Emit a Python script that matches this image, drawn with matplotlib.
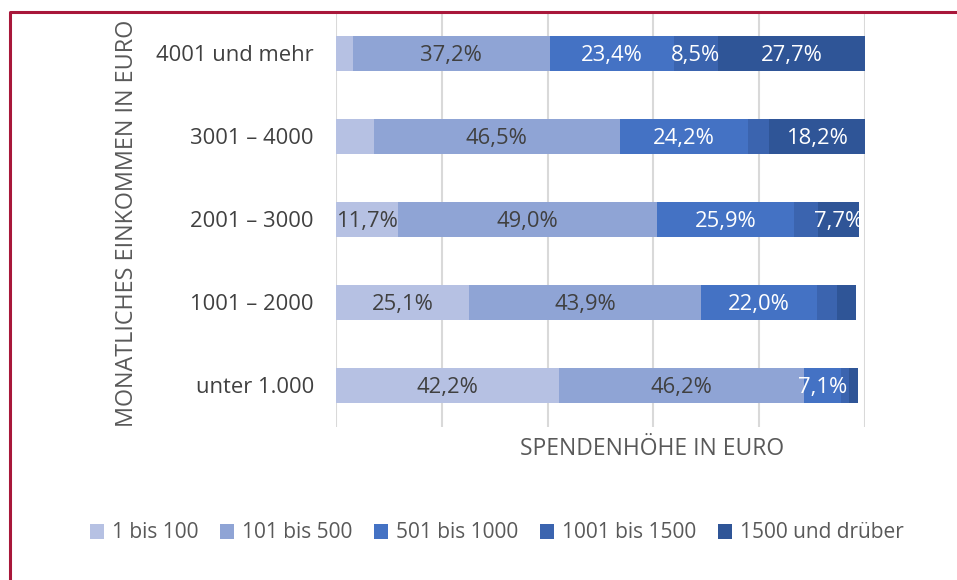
import matplotlib
matplotlib.use("Agg")
import matplotlib.pyplot as plt
from matplotlib.patches import Patch
from matplotlib.lines import Line2D

plt.rcParams['font.family'] = ['Open Sans', 'DejaVu Sans']

categories = ["unter 1.000", "1001 – 2000", "2001 – 3000", "3001 – 4000", "4001 und mehr"]
series_names = ["1 bis 100", "101 bis 500", "501 bis 1000", "1001 bis 1500", "1500 und drüber"]

s_1_100 = [42.2, 25.1, 11.7, 7.1, 3.2]
s_101_500 = [46.2, 43.9, 49.0, 46.5, 37.2]
s_501_1000 = [7.1, 22.0, 25.9, 24.2, 23.4]
s_1001_1500 = [1.5, 3.8, 4.6, 4.0, 8.5]
s_1500_plus = [1.6, 3.5, 7.7, 18.2, 27.7]
series_values = [s_1_100, s_101_500, s_501_1000, s_1001_1500, s_1500_plus]

show_1_100 = [True, True, True, False, False]
show_101_500 = [True, True, True, True, True]
show_501_1000 = [True, True, True, True, True]
show_1001_1500 = [False, False, False, False, True]
show_1500_plus = [False, False, True, True, True]
show_labels = [show_1_100, show_101_500, show_501_1000, show_1001_1500, show_1500_plus]

colors = ["#B6C1E3", "#8FA4D5", "#4472C4", "#3B64AF", "#2F5597"]
label_colors = ["#404040", "#404040", "white", "white", "white"]

W, H = 957, 580
fig = plt.figure(figsize=(W / 100, H / 100), dpi=100)
ax = fig.add_axes([336 / W, 1 - 427 / H, (865 - 336) / W, (427 - 11.5) / H])

y = list(range(len(categories)))
left = [0.0] * len(categories)
for name, vals, col, lc, show in zip(series_names, series_values, colors, label_colors, show_labels):
    ax.barh(y, vals, left=left, height=0.42, color=col, label=name, linewidth=0, zorder=3)
    for i, (v, l, s) in enumerate(zip(vals, left, show)):
        if s:
            ax.text(l + v / 2, i, f"{v:.1f}%".replace('.', ','), ha='center', va='center_baseline',
                    fontsize=15.8, color=lc, zorder=4)
    left = [a + b for a, b in zip(left, vals)]

ax.set_xlim(0, 100)
ax.set_ylim(-0.5, len(categories) - 0.5)
ax.set_xticks([0, 20, 40, 60, 80, 100])
ax.set_xticklabels([])
ax.set_yticks(y)
ax.set_yticklabels(categories, fontsize=15.8, color="#404040")
ax.tick_params(axis='both', length=0)
ax.tick_params(axis='y', pad=16)
ax.grid(axis='x', color="#D9D9D9", linewidth=1.5, zorder=0)
ax.set_axisbelow(True)
for sp in ax.spines.values():
    sp.set_visible(False)

fig.text(127 / W, 1 - 223 / H, "MONATLICHES EINKOMMEN IN EURO", rotation=90,
         ha='center', va='center', fontsize=16.8, color="#595959")
fig.text(652 / W, 1 - 449 / H, "SPENDENHÖHE IN EURO", ha='center', va='center',
         fontsize=16.5, color="#595959")

handles = [Patch(facecolor=c, edgecolor='none') for c in colors]
fig.legend(handles, series_names, loc='center', bbox_to_anchor=(497 / W, 1 - 533 / H),
           ncol=5, frameon=False, fontsize=15.0, handlelength=0.65, handleheight=0.7,
           handletextpad=0.4, columnspacing=1.05, labelcolor="#595959")

frame = Line2D([10 / W, 10 / W, 1.0], [0.0, 1 - 12 / H, 1 - 12 / H], transform=fig.transFigure,
               color="#A8173A", linewidth=2.2)
fig.add_artist(frame)

fig.savefig("out.png", dpi=100)
